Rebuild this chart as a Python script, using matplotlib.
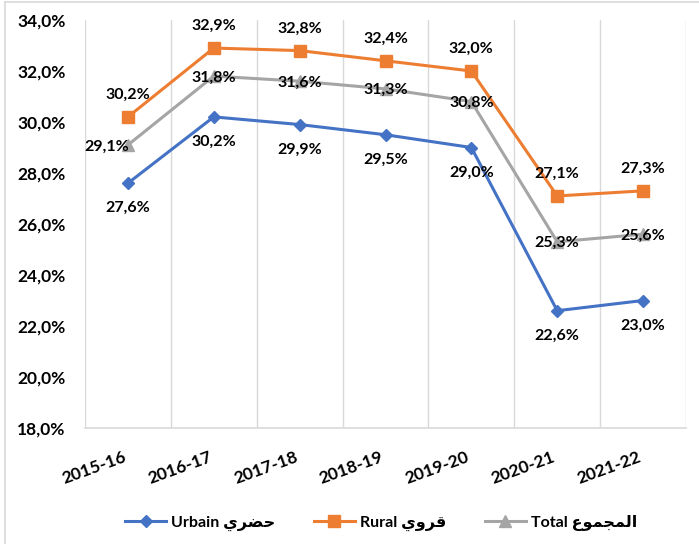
import matplotlib.pyplot as plt
from matplotlib.lines import Line2D
from matplotlib.ticker import FuncFormatter

years = ['2015-16', '2016-17', '2017-18', '2018-19', '2019-20', '2020-21', '2021-22']
urbain = [27.6, 30.2, 29.9, 29.5, 29.0, 22.6, 23.0]
rural = [30.2, 32.9, 32.8, 32.4, 32.0, 27.1, 27.3]
total = [29.1, 31.8, 31.6, 31.3, 30.8, 25.3, 25.6]

# arabic in presentation forms, visual order (matplotlib does no shaping)
ar_urbain = '\uFEF1\uFEAE\uFEC0\uFEA3'
ar_rural = '\uFEF1\uFEED\uFEAE\uFED7'
ar_total = '\uFEC9\uFEEE\uFEE4\uFEA0\uFEE4\uFEDF\uFE8D'

plt.rcParams['font.family'] = ['Lato', 'DejaVu Sans']
plt.rcParams['font.weight'] = 'bold'

blue = '#4472C4'
orange = '#ED7D31'
gray = '#A5A5A5'
grid = '#D9D9D9'

fig = plt.figure(figsize=(6.99, 5.44), dpi=100)
ax = fig.add_axes([85/699, 1-428/544, (686-85)/699, (428-20)/544])

x = list(range(len(years)))
ax.plot(x, urbain, color=blue, lw=2.2, marker='D', ms=6.5, zorder=3)
ax.plot(x, rural, color=orange, lw=2.2, marker='s', ms=9, zorder=3)
ax.plot(x, total, color=gray, lw=2.2, marker='^', ms=8, zorder=3)

def fmt(v):
    return ('%.1f%%' % v).replace('.', ',')

for i, v in enumerate(urbain):
    ax.annotate(fmt(v), (i, v), xytext=(0, -18), textcoords='offset points',
                ha='center', va='center', fontsize=11.5, fontweight='bold', zorder=4)
for i, v in enumerate(rural):
    ax.annotate(fmt(v), (i, v), xytext=(0, 16), textcoords='offset points',
                ha='center', va='center', fontsize=11.5, fontweight='bold', zorder=4)
for i, v in enumerate(total):
    dx = -15 if i == 0 else 0
    ax.annotate(fmt(v), (i, v), xytext=(dx, -1), textcoords='offset points',
                ha='center', va='center', fontsize=11.5, fontweight='bold', zorder=4)

ax.set_xlim(-0.5, len(years) - 0.5)
ax.set_ylim(18, 34)
ax.set_yticks(range(18, 35, 2))
ax.yaxis.set_major_formatter(FuncFormatter(lambda v, p: fmt(v)))
ax.set_xticks(x)
ax.set_xticklabels(years, rotation=20, ha='right', rotation_mode='default')
ax.set_xticks([i - 0.5 for i in range(len(years) + 1)], minor=True)
ax.grid(True, which='minor', axis='x', color=grid, lw=1)
ax.tick_params(axis='x', which='both', length=0, labelsize=12.5, pad=15)
ax.tick_params(axis='y', length=0, labelsize=12.5, pad=14)
for s in ['top', 'left', 'right']:
    ax.spines[s].set_visible(False)
ax.spines['bottom'].set_color(grid)
ax.spines['bottom'].set_linewidth(1.2)

handles = [
    Line2D([], [], color=blue, lw=2.2, marker='D', ms=6.5),
    Line2D([], [], color=orange, lw=2.2, marker='s', ms=9),
    Line2D([], [], color=gray, lw=2.2, marker='^', ms=8),
]
labels = ['Urbain ' + ar_urbain, 'Rural ' + ar_rural, 'Total ' + ar_total]
fig.legend(handles, labels, loc='center', bbox_to_anchor=(0.545, 1-523/544), ncol=3,
           frameon=False, handlelength=2.6, handletextpad=0.3,
           columnspacing=2.4, prop={'weight': 'bold', 'size': 11.5})

fig.add_artist(Line2D([5/699, 1], [1-2/544, 1-2/544], color=grid, lw=1.2))
fig.add_artist(Line2D([5/699, 5/699], [0, 1-2/544], color=grid, lw=1.2))

fig.savefig('out.png', dpi=100)
